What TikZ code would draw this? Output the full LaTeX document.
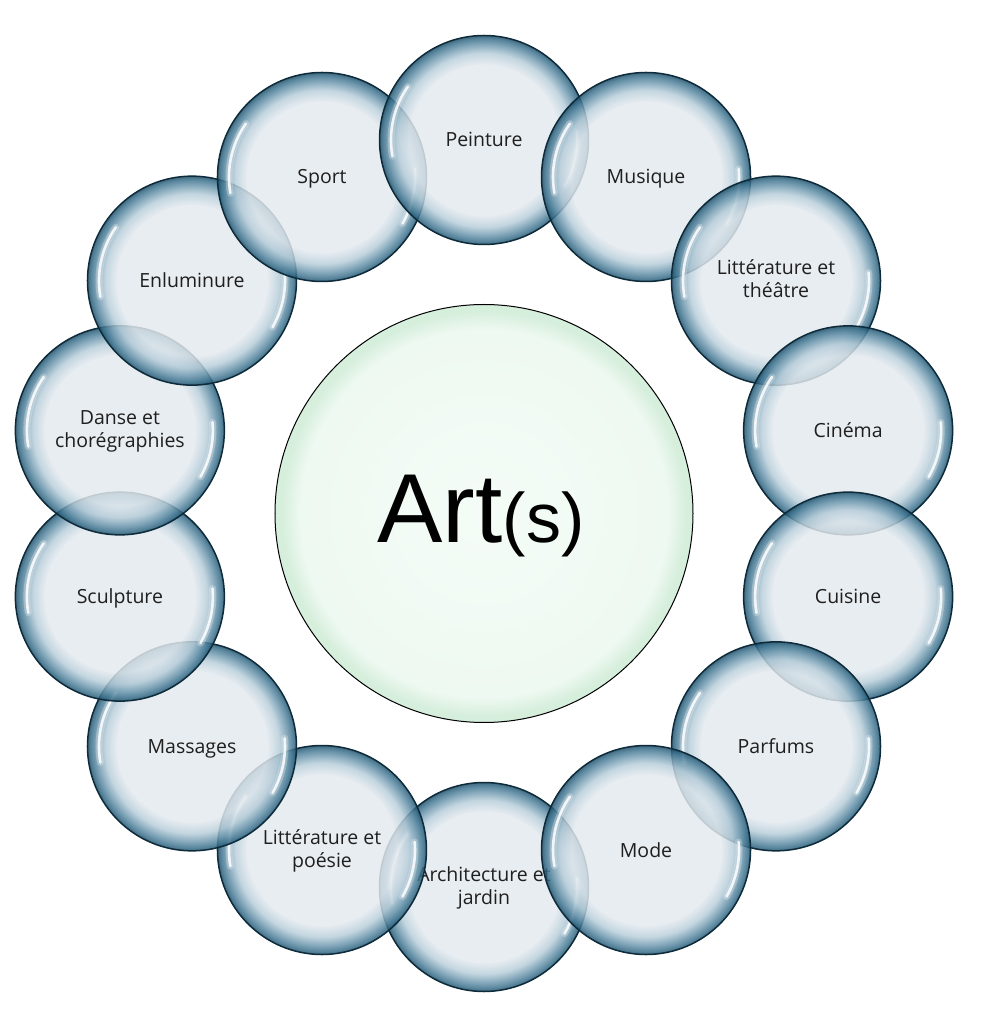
\documentclass[tikz,border=0pt]{standalone}
\usepackage{fontspec}
\setmainfont{Open Sans}
\newfontfamily\artfont{Liberation Sans}
\usetikzlibrary{calc}
\definecolor{bIn}{HTML}{E3E9EE}
\definecolor{bA}{HTML}{B8CEDA}
\definecolor{bB}{HTML}{6B96AD}
\definecolor{bC}{HTML}{366C88}
\definecolor{bD}{HTML}{1D4C66}
\definecolor{bBorder}{HTML}{0D2B3A}
\definecolor{gIn}{HTML}{F5FCF7}
\definecolor{gA}{HTML}{EEF9F1}
\definecolor{gB}{HTML}{D6EEDC}
\definecolor{txt}{HTML}{1F1F1F}
\pgfdeclareradialshading{bubble}{\pgfpoint{0bp}{0bp}}{color(0bp)=(bIn); color(18bp)=(bIn); color(20.8bp)=(bA); color(22.9bp)=(bB); color(24.3bp)=(bC); color(25bp)=(bD); color(50bp)=(bD)}
\pgfdeclareradialshading{coreshade}{\pgfpoint{0bp}{0bp}}{color(0bp)=(gIn); color(22bp)=(gA); color(24.25bp)=(gB); color(25bp)=(gB); color(50bp)=(gB)}
\newcommand{\mybub}[4]{%
  \node[bubble] (#1) at (#2:373.5pt) {};
  \draw[hlsoft] ([shift={(145:93pt)}]#1.center) arc[start angle=145, end angle=190, radius=93pt];
  \draw[hl] ([shift={(145:93pt)}]#1.center) arc[start angle=145, end angle=190, radius=93pt];
  \draw[hlsoft] ([shift={(5:93pt)}]#1.center) arc[start angle=5, end angle=-30, radius=93pt];
  \draw[hl] ([shift={(5:93pt)}]#1.center) arc[start angle=5, end angle=-30, radius=93pt];
  \node[lbl] (#1l) at ([yshift=#4]#1.center) {#3};
}
\newcommand{\two}[2]{\begin{tabular}[t]{@{}c@{}}#1\\#2\end{tabular}}
\begin{document}
\begin{tikzpicture}[x=1pt,y=1pt,
  bubble/.style={circle, minimum size=209pt, inner sep=0pt, draw=bBorder, line width=1.5pt, shading=bubble, fill opacity=0.84},
  hl/.style={white, line width=2.6pt, line cap=round, opacity=0.85},
  hlsoft/.style={white, line width=7pt, line cap=round, opacity=0.25},
  lbl/.style={font=\fontsize{19.5}{23}\selectfont, text=txt, inner sep=0pt, anchor=base},
  corestyle/.style={circle, minimum size=418pt, inner sep=0pt, draw=black, line width=1pt, shading=coreshade}]
\useasboundingbox (-484,-510.5) rectangle (502,513.5);
\node[corestyle] (core) at (0,0) {};
\node[inner sep=0pt, anchor=base] (corelbl) at (-3,-29.5) {\artfont\fontsize{98}{98}\selectfont Art\fontsize{70}{70}\selectfont(s)};
\mybub{arch}{-90}{\two{Architecture et}{jardin}}{6pt}
\mybub{litpo}{-115.71}{\two{Littérature et}{poésie}}{6pt}
\mybub{mass}{-141.43}{Massages}{-7pt}
\mybub{sculp}{-167.14}{Sculpture}{-7pt}
\mybub{danse}{167.14}{\two{Danse et}{chorégraphies}}{6pt}
\mybub{enlum}{141.43}{Enluminure}{-7pt}
\mybub{sport}{115.71}{Sport}{-7pt}
\mybub{peint}{90}{Peinture}{-7pt}
\mybub{musiq}{64.29}{Musique}{-7pt}
\mybub{litth}{38.57}{\two{Littérature et}{théâtre}}{6pt}
\mybub{cine}{12.86}{Cinéma}{-7pt}
\mybub{cuis}{-12.86}{Cuisine}{-7pt}
\mybub{parf}{-38.57}{Parfums}{-7pt}
\mybub{mode}{-64.29}{Mode}{-7pt}
\end{tikzpicture}
\end{document}
